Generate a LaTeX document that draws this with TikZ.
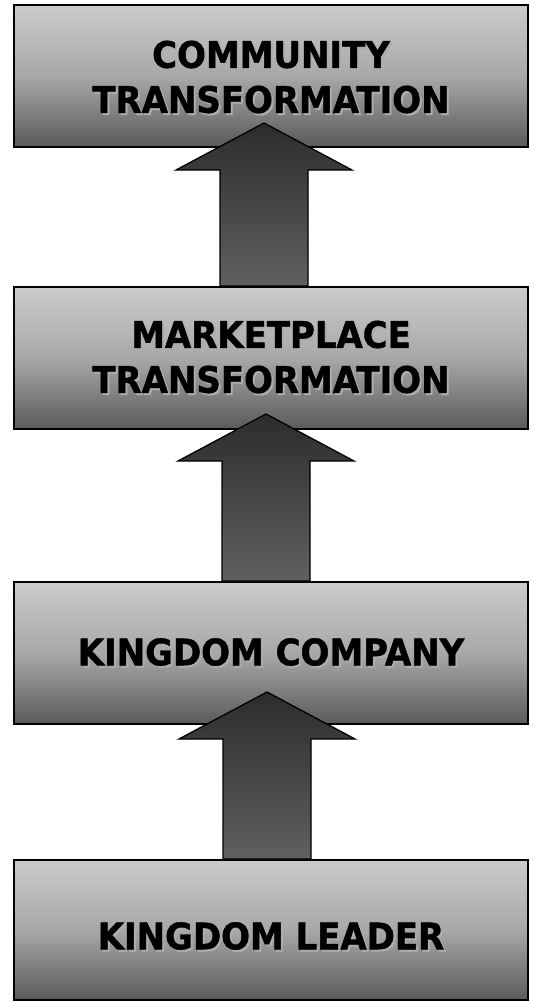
\documentclass[tikz,border=0pt]{standalone}
\usepackage{fontspec}
\usetikzlibrary{calc}
\newfontfamily\boxfont{DejaVu Sans}[FakeStretch=0.93,FakeBold=1.2]
\definecolor{boxtop}{HTML}{CBCBCB}
\definecolor{boxmid}{HTML}{A8A8A8}
\definecolor{boxbot}{HTML}{5A5A5A}
\definecolor{arrtop}{HTML}{2C2C2C}
\definecolor{arrbot}{HTML}{606060}
\definecolor{txtshadow}{HTML}{ADADAD}
% one line of label text with a soft drop shadow behind it
\newcommand\shadowline[1]{\leavevmode\rlap{\hspace{2pt}\raisebox{-2pt}{\textcolor{txtshadow}{#1}}}#1}
\begin{document}
\begin{tikzpicture}[x=1pt,y=-1pt,
  stagebox/.style={draw=black,line width=2pt,minimum width=514pt,inner sep=0pt,
    top color=boxtop,bottom color=boxbot,middle color=boxmid},
  label/.style={font=\boxfont\bfseries\fontsize{36.5}{45}\selectfont,align=center,
    inner sep=0pt,text=black},
  uparrow/.style={draw=black,line width=1.3pt,line join=miter,top color=arrtop,bottom color=arrbot}]
\useasboundingbox (0,0) rectangle (535,1002);

% stages
\node[stagebox,minimum height=142pt] (b1) at (271,76) {};
\node[stagebox,minimum height=142pt] (b2) at (271,358) {};
\node[stagebox,minimum height=142pt] (b3) at (271,653) {};
\node[stagebox,minimum height=140pt] (b4) at (271,930) {};

% arrow tips
\coordinate (t1) at (264,123);
\coordinate (t2) at (266,414);
\coordinate (t3) at (267,692);

% block arrows: head depth 47, head half-width 88, shaft half-width 44
\foreach \tip/\from in {t1/b2,t2/b3,t3/b4}{
  \path (\tip) coordinate (tp) (\from.north) coordinate (fr);
  \draw[uparrow] (tp) -- ($(tp)+(88,47)$) -- ($(tp)+(44,47)$) -- ($(tp|-fr)+(44,0)$)
    -- ($(tp|-fr)+(-44,0)$) -- ($(tp)+(-44,47)$) -- ($(tp)+(-88,47)$) -- cycle;
}

% labels
\node[label] (l1) at ($(b1)+(0,2)$) {\shadowline{COMMUNITY}\\\shadowline{TRANSFORMATION}};
\node[label] (l2) at ($(b2)+(0,0)$) {\shadowline{MARKETPLACE}\\\shadowline{TRANSFORMATION}};
\node[label] (l3) at ($(b3)+(0,0)$) {\shadowline{KINGDOM COMPANY}};
\node[label] (l4) at ($(b4)+(0,7)$) {\shadowline{KINGDOM LEADER}};
\end{tikzpicture}
\end{document}
